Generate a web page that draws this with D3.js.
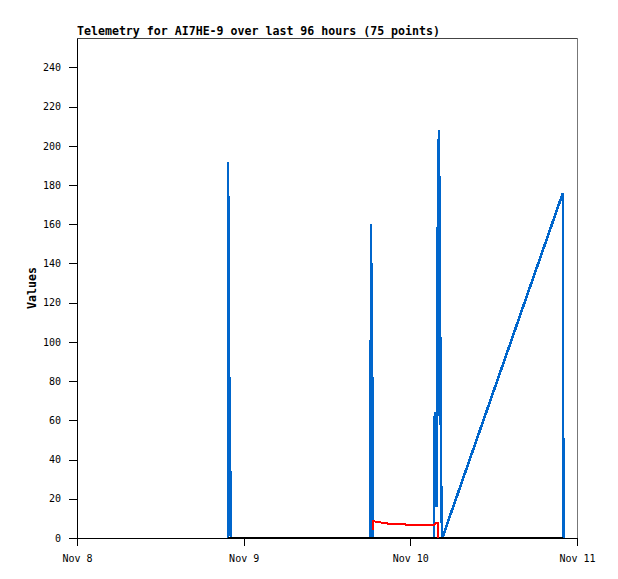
<!DOCTYPE html>
<html>
<head>
<meta charset="utf-8">
<script src="https://cdn.jsdelivr.net/npm/d3@7"></script>
<style>
body { margin: 0; background: #fff; }
</style>
</head>
<body>
<script>
// telemetry channels, time stamps are local time
var blueTimes = ["2023-11-08 21:44", "2023-11-08 21:45", "2023-11-08 21:54", "2023-11-08 22:07", "2023-11-08 22:09",
	"2023-11-09 18:18", "2023-11-09 18:19", "2023-11-09 18:31", "2023-11-09 18:33",
	"2023-11-10 03:24", "2023-11-10 03:25", "2023-11-10 03:32", "2023-11-10 03:38", "2023-11-10 03:44",
	"2023-11-10 03:50", "2023-11-10 03:57", "2023-11-10 04:07", "2023-11-10 04:18", "2023-11-10 04:28",
	"2023-11-10 04:36", "2023-11-10 21:58", "2023-11-10 22:00", "2023-11-10 22:02"
];
var blueValues = [0, 192, 88, 16, 0,
	0, 160, 80, 0,
	0, 32, 64, 16, 52,
	16, 156, 208, 104, 16,
	0, 176, 88, 0
];
var redTimes = ["2023-11-09 18:40", "2023-11-09 18:41", "2023-11-09 18:50", "2023-11-09 19:04",
	"2023-11-09 20:36", "2023-11-09 20:38", "2023-11-09 23:12", "2023-11-09 23:14",
	"2023-11-10 03:30", "2023-11-10 03:40", "2023-11-10 04:02", "2023-11-10 04:03"
];
var redValues = [4.1, 9.2, 8.6, 8.0, 7.8, 7.3, 7.3, 6.8, 6.8, 7.8, 7.6, 0];
var blackTimes = ["2023-11-08 21:44", "2023-11-09 18:18", "2023-11-10 03:24", "2023-11-10 22:02"];
var blackValues = [0, 0, 0, 0];
var xTicks = ["2023-11-08 00:00", "2023-11-09 00:00", "2023-11-10 00:00", "2023-11-11 00:00"];
var yTicks = [0, 20, 40, 60, 80, 100, 120, 140, 160, 180, 200, 220, 240];

var width = 618;
var height = 579;
var margin = { top: 38, left: 77, right: 41, bottom: 41 };
var parse = d3.timeParse("%Y-%m-%d %H:%M");

var svg = d3.select("body").append("svg")
	.attr("width", width)
	.attr("height", height);

var x = d3.scaleTime()
	.domain([parse(xTicks[0]), parse(xTicks[3])])
	.range([margin.left, width - margin.right]);
var y = d3.scaleLinear()
	.domain([0, 255])
	.range([height - margin.bottom, margin.top]);

// frame on top and right
svg.append("line")
	.attr("x1", margin.left).attr("x2", width - margin.right)
	.attr("y1", margin.top + 0.5).attr("y2", margin.top + 0.5)
	.attr("stroke", "#444").attr("shape-rendering", "crispEdges");
svg.append("line")
	.attr("x1", width - margin.right + 0.5).attr("x2", width - margin.right + 0.5)
	.attr("y1", margin.top).attr("y2", height - margin.bottom)
	.attr("stroke", "#777").attr("shape-rendering", "crispEdges");

var xAxis = svg.append("g")
	.attr("transform", "translate(0," + (height - margin.bottom) + ")")
	.call(d3.axisBottom(x)
		.tickValues(xTicks.map(function(d) { return parse(d); }))
		.tickFormat(d3.timeFormat("%b %-d"))
		.tickSize(8).tickSizeOuter(0).tickPadding(9));
var yAxis = svg.append("g")
	.attr("transform", "translate(" + margin.left + ",0)")
	.call(d3.axisLeft(y).tickValues(yTicks).tickSize(8).tickSizeOuter(0).tickPadding(8));

svg.selectAll(".tick text")
	.attr("font-family", "DejaVu Sans Mono")
	.attr("font-size", "10px")
	.attr("fill", "#000");
svg.selectAll(".domain, .tick line")
	.attr("stroke", "#000")
	.attr("shape-rendering", "crispEdges");

function series(times, values) {
	return times.map(function(t, i) {
		return { t: parse(t), v: values[i] };
	});
}

var line = d3.line()
	.x(function(d) { return x(d.t); })
	.y(function(d) { return y(d.v); });

// blue first, the zero channel over it, red on top
var lines = [
	{ data: series(blueTimes, blueValues), color: "#0066cc", w: 2.6 },
	{ data: series(blackTimes, blackValues), color: "#000000", w: 2 },
	{ data: series(redTimes, redValues), color: "#ff0000", w: 2 }
];

svg.selectAll("path.series").data(lines).enter().append("path")
	.attr("class", "series")
	.attr("d", function(d) { return line(d.data); })
	.attr("fill", "none")
	.attr("stroke", function(d) { return d.color; })
	.attr("stroke-width", function(d) { return d.w; })
	.attr("stroke-linejoin", "miter")
	.attr("stroke-miterlimit", 1)
	.attr("shape-rendering", "crispEdges");

svg.append("text")
	.text("Telemetry for AI7HE-9 over last 96 hours (75 points)")
	.attr("x", margin.left)
	.attr("y", 35)
	.attr("font-family", "DejaVu Sans Mono")
	.attr("font-weight", "bold")
	.attr("font-size", "11.6px");

svg.append("text")
	.text("Values")
	.attr("transform", "translate(36," + ((margin.top + height - margin.bottom) / 2) + ") rotate(-90)")
	.attr("text-anchor", "middle")
	.attr("font-family", "DejaVu Sans Mono")
	.attr("font-weight", "bold")
	.attr("font-size", "11.6px");
</script>
</body>
</html>
